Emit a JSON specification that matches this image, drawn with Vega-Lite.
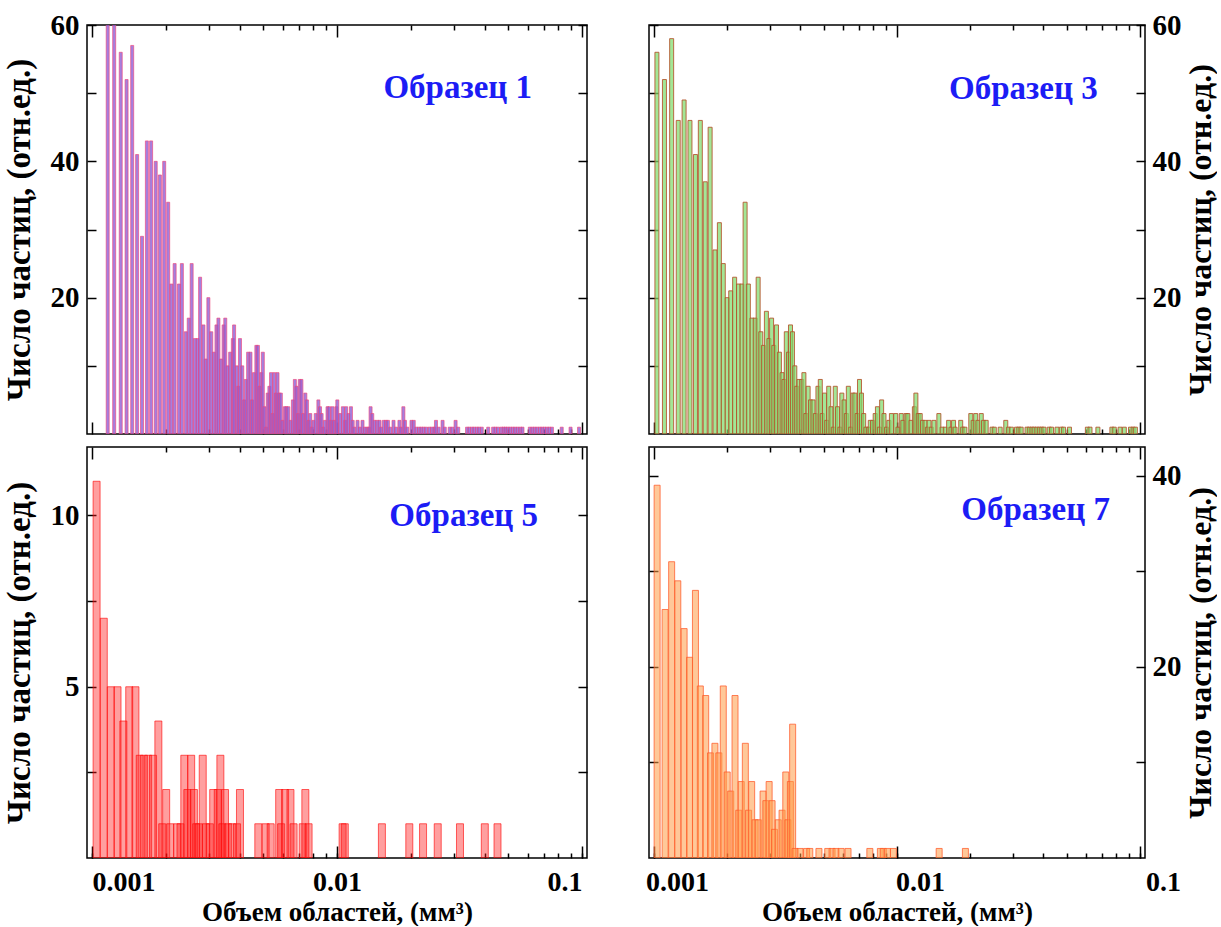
{
  "$schema": "https://vega.github.io/schema/vega-lite/v6.json",
  "padding": {"left": 2, "top": 10, "right": 0, "bottom": 0},
  "background": "white",
  "config": {
    "font": "Liberation Serif",
    "view": {"stroke": "black", "strokeWidth": 1.5},
    "axis": {
      "domain": false, "grid": false, "ticks": true, "tickColor": "black", "tickWidth": 1.5,
      "labelFont": "Liberation Serif", "labelFontWeight": "bold", "labelFontSize": 29, "labelColor": "black",
      "titleFont": "Liberation Serif", "titleFontWeight": "bold", "titleColor": "black", "titleFontSize": 33,
      "labelOverlap": false, "zindex": 1
    }
  },
  "datasets": {
    "p1": [
      {"v":0.001159,"n":65},{"v":0.001232,"n":61},{"v":0.00131,"n":56},{"v":0.001384,"n":52},{"v":0.001459,"n":57},{"v":0.001528,"n":41},{"v":0.0016,"n":29},{"v":0.001675,"n":43},{"v":0.001743,"n":43},{"v":0.00182,"n":40},{"v":0.001893,"n":38},{"v":0.001971,"n":40},{"v":0.002046,"n":34},
      {"v":0.002109,"n":22},{"v":0.002174,"n":25},{"v":0.002264,"n":22},{"v":0.002327,"n":25},{"v":0.002414,"n":15},{"v":0.002482,"n":17},{"v":0.002551,"n":25},{"v":0.00263,"n":14},{"v":0.002697,"n":14},{"v":0.002762,"n":23},{"v":0.00285,"n":16},{"v":0.002911,"n":11},{"v":0.002985,"n":20},{"v":0.003068,"n":15},{"v":0.003143,"n":12},{"v":0.003221,"n":16},{"v":0.003281,"n":17},{"v":0.003364,"n":11},{"v":0.003445,"n":16},{"v":0.003499,"n":17},{"v":0.003574,"n":10},{"v":0.003664,"n":12},{"v":0.003757,"n":14},{"v":0.003802,"n":16},{"v":0.003898,"n":10},{"v":0.003956,"n":7},{"v":0.004018,"n":14},{"v":0.004104,"n":10},{"v":0.004181,"n":5},{"v":0.004246,"n":8},{"v":0.004337,"n":12},{"v":0.004434,"n":12},{"v":0.0045,"n":5},{"v":0.004583,"n":9},{"v":0.004686,"n":13},{"v":0.004756,"n":13},{"v":0.004831,"n":7},{"v":0.004907,"n":9},{"v":0.00498,"n":12},{"v":0.005058,"n":4},{"v":0.005138,"n":1},{"v":0.005214,"n":6},{"v":0.005297,"n":7},{"v":0.005381,"n":9},{"v":0.00546,"n":3},{"v":0.005546,"n":9},{"v":0.005634,"n":6},{"v":0.005717,"n":9},{"v":0.005808,"n":6},{"v":0.005899,"n":6},{"v":0.005987,"n":2},{"v":0.006121,"n":4},{"v":0.006212,"n":4},{"v":0.006327,"n":4},{"v":0.006469,"n":2},{"v":0.006607,"n":5},{"v":0.00673,"n":8},{"v":0.006836,"n":7},{"v":0.006937,"n":3},{"v":0.007047,"n":8},{"v":0.007158,"n":8},{"v":0.007264,"n":3},{"v":0.007427,"n":6},{"v":0.007537,"n":5},{"v":0.007656,"n":2},{"v":0.007777,"n":3},{"v":0.007892,"n":1},{"v":0.008017,"n":2},{"v":0.008188,"n":3},{"v":0.008395,"n":5},{"v":0.008527,"n":4},{"v":0.008654,"n":3},{"v":0.00879,"n":1},{"v":0.008929,"n":2},{"v":0.009146,"n":4},{"v":0.00929,"n":4},{"v":0.009437,"n":2},{"v":0.009577,"n":4},{"v":0.009727,"n":2},{"v":0.009936,"n":4},{"v":0.01003,"n":5},
      {"v":0.01031,"n":3},{"v":0.01057,"n":4},{"v":0.0108,"n":2},{"v":0.0109,"n":4},{"v":0.01114,"n":3},{"v":0.0114,"n":4},{"v":0.01159,"n":2},{"v":0.01177,"n":1},{"v":0.01213,"n":2},{"v":0.0124,"n":1},{"v":0.01271,"n":2},{"v":0.01298,"n":1},{"v":0.0133,"n":1},{"v":0.01351,"n":1},{"v":0.01371,"n":4},{"v":0.01393,"n":3},{"v":0.01423,"n":2},{"v":0.01459,"n":2},{"v":0.01491,"n":2},{"v":0.01514,"n":1},{"v":0.01552,"n":2},{"v":0.01585,"n":2},{"v":0.01614,"n":2},{"v":0.01649,"n":1},{"v":0.01701,"n":2},{"v":0.01742,"n":1},{"v":0.01798,"n":2},{"v":0.0182,"n":1},{"v":0.01866,"n":4},{"v":0.01894,"n":2},{"v":0.01936,"n":1},{"v":0.02014,"n":2},{"v":0.02057,"n":2},{"v":0.02109,"n":1},{"v":0.02162,"n":1},{"v":0.02208,"n":1},{"v":0.02256,"n":1},{"v":0.02312,"n":1},{"v":0.02384,"n":1},{"v":0.02443,"n":1},{"v":0.02496,"n":1},{"v":0.02535,"n":2},{"v":0.02599,"n":1},{"v":0.02697,"n":2},{"v":0.02754,"n":1},{"v":0.02884,"n":1},{"v":0.02957,"n":1},{"v":0.03048,"n":2},{"v":0.03124,"n":1},{"v":0.03395,"n":1},{"v":0.03467,"n":1},{"v":0.03554,"n":1},{"v":0.03631,"n":1},{"v":0.03723,"n":1},{"v":0.03802,"n":1},{"v":0.03898,"n":1},{"v":0.04142,"n":1},{"v":0.04337,"n":1},{"v":0.04434,"n":1},{"v":0.04541,"n":1},{"v":0.04686,"n":1},{"v":0.04786,"n":1},{"v":0.04875,"n":1},{"v":0.0498,"n":1},{"v":0.05091,"n":1},{"v":0.05214,"n":1},{"v":0.05331,"n":1},{"v":0.0546,"n":1},{"v":0.05598,"n":1},{"v":0.05717,"n":1},{"v":0.06121,"n":1},{"v":0.0627,"n":1},{"v":0.0641,"n":1},{"v":0.06565,"n":1},{"v":0.0673,"n":1},{"v":0.06874,"n":1},{"v":0.07028,"n":1},{"v":0.07198,"n":1},{"v":0.07359,"n":1},{"v":0.07537,"n":1},{"v":0.08264,"n":1},{"v":0.0898,"n":1},{"v":0.09727,"n":1}
    ],
    "p3": [
      {"v":0.001028,"n":56},{"v":0.001104,"n":52},{"v":0.001182,"n":58},{"v":0.001258,"n":46},{"v":0.00133,"n":49},{"v":0.001406,"n":46},{"v":0.001481,"n":41},{"v":0.001551,"n":46},{"v":0.001625,"n":37},{"v":0.001702,"n":45},{"v":0.001783,"n":27},{"v":0.001858,"n":31},{"v":0.001928,"n":25},{"v":0.002001,"n":20},{"v":0.002069,"n":21},{"v":0.002147,"n":23},{"v":0.002228,"n":22},{"v":0.0023,"n":22},{"v":0.002371,"n":34},{"v":0.002445,"n":22},{"v":0.00253,"n":17},{"v":0.002609,"n":17},{"v":0.002683,"n":23},{"v":0.002751,"n":15},{"v":0.002821,"n":13},{"v":0.002901,"n":18},{"v":0.002972,"n":14},{"v":0.003047,"n":17},{"v":0.003113,"n":13},{"v":0.003192,"n":16},{"v":0.003282,"n":12},{"v":0.003365,"n":9},{"v":0.003428,"n":8},{"v":0.003503,"n":15},{"v":0.003578,"n":12},{"v":0.003645,"n":16},{"v":0.003713,"n":15},{"v":0.003797,"n":10},{"v":0.003868,"n":7},{"v":0.003952,"n":8},{"v":0.004052,"n":8},{"v":0.004139,"n":9},{"v":0.004217,"n":3},{"v":0.004308,"n":7},{"v":0.004406,"n":5},{"v":0.004513,"n":5},{"v":0.004615,"n":3},{"v":0.004728,"n":7},{"v":0.004834,"n":8},{"v":0.004924,"n":3},{"v":0.005031,"n":6},{"v":0.005139,"n":2},{"v":0.005236,"n":7},{"v":0.005353,"n":4},{"v":0.005469,"n":1},{"v":0.005572,"n":7},{"v":0.005691,"n":4},{"v":0.00582,"n":1},{"v":0.005929,"n":6},{"v":0.006058,"n":5},{"v":0.006188,"n":3},{"v":0.006305,"n":7},{"v":0.006447,"n":1},{"v":0.006585,"n":6},{"v":0.006709,"n":6},{"v":0.006854,"n":3},{"v":0.007009,"n":8},{"v":0.00714,"n":6},{"v":0.007294,"n":3},{"v":0.007452,"n":1},{"v":0.007641,"n":1},{"v":0.007762,"n":2},{"v":0.00793,"n":2},{"v":0.008131,"n":3},{"v":0.008307,"n":4},{"v":0.008462,"n":1},{"v":0.008645,"n":5},{"v":0.00884,"n":3},{"v":0.009056,"n":1},{"v":0.009259,"n":2},{"v":0.009484,"n":3},{"v":0.009881,"n":3},
      {"v":0.01009,"n":1},{"v":0.01041,"n":3},{"v":0.01057,"n":2},{"v":0.0109,"n":3},{"v":0.01108,"n":3},{"v":0.01142,"n":2},{"v":0.01179,"n":4},{"v":0.01196,"n":6},{"v":0.01223,"n":3},{"v":0.01246,"n":3},{"v":0.01273,"n":2},{"v":0.01305,"n":2},{"v":0.01334,"n":1},{"v":0.01355,"n":2},{"v":0.01384,"n":1},{"v":0.01419,"n":2},{"v":0.01487,"n":3},{"v":0.01533,"n":1},{"v":0.0158,"n":1},{"v":0.01631,"n":2},{"v":0.01667,"n":1},{"v":0.01709,"n":2},{"v":0.01734,"n":1},{"v":0.01829,"n":2},{"v":0.01863,"n":1},{"v":0.01903,"n":1},{"v":0.02012,"n":3},{"v":0.02058,"n":2},{"v":0.02108,"n":3},{"v":0.02155,"n":2},{"v":0.02222,"n":3},{"v":0.0227,"n":2},{"v":0.02328,"n":2},{"v":0.02461,"n":1},{"v":0.02514,"n":1},{"v":0.02658,"n":1},{"v":0.02803,"n":2},{"v":0.02874,"n":1},{"v":0.02955,"n":1},{"v":0.03104,"n":1},{"v":0.03171,"n":1},{"v":0.03243,"n":1},{"v":0.03429,"n":1},{"v":0.03503,"n":1},{"v":0.03592,"n":1},{"v":0.03669,"n":1},{"v":0.03762,"n":1},{"v":0.03854,"n":1},{"v":0.03941,"n":1},{"v":0.04026,"n":1},{"v":0.04229,"n":1},{"v":0.04324,"n":1},{"v":0.04555,"n":1},{"v":0.04745,"n":1},{"v":0.04848,"n":1},{"v":0.05126,"n":1},{"v":0.06073,"n":1},{"v":0.06227,"n":1},{"v":0.06709,"n":1},{"v":0.07661,"n":1},{"v":0.07834,"n":1},{"v":0.0828,"n":1},{"v":0.08619,"n":1},{"v":0.0914,"n":1},{"v":0.09372,"n":1},{"v":0.09572,"n":1}
    ],
    "p5": [
      {"v":0.001044,"n":11},{"v":0.001117,"n":7},{"v":0.001193,"n":5},{"v":0.001271,"n":5},{"v":0.001343,"n":4},{"v":0.001419,"n":5},{"v":0.001504,"n":5},{"v":0.001566,"n":3},{"v":0.001629,"n":3},{"v":0.001695,"n":3},{"v":0.001775,"n":3},{"v":0.001866,"n":4},{"v":0.001935,"n":1},{"v":0.002008,"n":2},{"v":0.002084,"n":1},{"v":0.002228,"n":1},{"v":0.002297,"n":1},{"v":0.002381,"n":3},{"v":0.00245,"n":2},{"v":0.00254,"n":3},{"v":0.002606,"n":2},{"v":0.002662,"n":1},{"v":0.002729,"n":1},{"v":0.002831,"n":3},{"v":0.002919,"n":1},{"v":0.003028,"n":1},{"v":0.003124,"n":2},{"v":0.00326,"n":2},{"v":0.003342,"n":3},{"v":0.003404,"n":1},{"v":0.00349,"n":2},{"v":0.003597,"n":1},{"v":0.003733,"n":1},{"v":0.003908,"n":1},{"v":0.004018,"n":2},{"v":0.004774,"n":1},{"v":0.005114,"n":1},{"v":0.005361,"n":1},{"v":0.005808,"n":2},{"v":0.005916,"n":1},{"v":0.006138,"n":2},{"v":0.006457,"n":2},{"v":0.00665,"n":1},{"v":0.007244,"n":1},{"v":0.007427,"n":2},{"v":0.007656,"n":1},{"v":0.01054,"n":1},{"v":0.01076,"n":1},{"v":0.01525,"n":1},{"v":0.01973,"n":1},{"v":0.02245,"n":1},{"v":0.02577,"n":1},{"v":0.03177,"n":1},{"v":0.04011,"n":1},{"v":0.0452,"n":1}
    ],
    "p7": [
      {"v":0.00103,"n":39},{"v":0.001111,"n":26},{"v":0.001182,"n":31},{"v":0.001253,"n":29},{"v":0.00133,"n":24},{"v":0.001401,"n":21},{"v":0.001481,"n":28},{"v":0.001551,"n":18},{"v":0.001632,"n":17},{"v":0.001708,"n":11},{"v":0.001781,"n":12},{"v":0.001849,"n":11},{"v":0.001928,"n":18},{"v":0.002001,"n":9},{"v":0.002069,"n":7},{"v":0.002155,"n":17},{"v":0.002233,"n":5},{"v":0.002285,"n":8},{"v":0.002376,"n":12},{"v":0.00245,"n":5},{"v":0.002523,"n":8},{"v":0.002607,"n":4},{"v":0.002688,"n":4},{"v":0.002811,"n":7},{"v":0.002887,"n":6},{"v":0.002977,"n":8},{"v":0.003061,"n":6},{"v":0.003133,"n":3},{"v":0.003246,"n":4},{"v":0.003365,"n":5},{"v":0.003486,"n":9},{"v":0.003558,"n":4},{"v":0.003641,"n":8},{"v":0.00372,"n":14},{"v":0.003807,"n":1},{"v":0.003989,"n":1},{"v":0.004244,"n":1},{"v":0.004376,"n":1},{"v":0.004772,"n":1},{"v":0.005187,"n":1},{"v":0.005404,"n":1},{"v":0.005609,"n":1},{"v":0.005891,"n":1},{"v":0.006287,"n":1},{"v":0.007732,"n":1},{"v":0.008542,"n":1},{"v":0.008781,"n":1},{"v":0.00914,"n":1},{"v":0.009663,"n":1},{"v":0.01491,"n":1},{"v":0.01912,"n":1}
    ]
  },
  "concat": [
    {
      "width": 500, "height": 409,
      "layer": [
        {
          "data": {"name": "p1"},
          "mark": {"type": "bar", "width": 3, "clip": true, "fill": "#8f5fd6", "fillOpacity": 0.8, "stroke": "#f0457a", "strokeOpacity": 0.65, "strokeWidth": 1},
          "encoding": {
            "x": {"field": "v", "type": "quantitative", "scale": {"type": "log", "domain": [0.001, 0.1], "nice": false},
              "axis": {"orient": "bottom", "values": [0.002,0.003,0.004,0.005,0.006,0.007,0.008,0.009,0.02,0.03,0.04,0.05,0.06,0.07,0.08,0.09], "labels": false, "title": null, "minExtent": 0, "maxExtent": 0, "tickSize": -5}},
            "y": {"field": "n", "type": "quantitative", "scale": {"domain": [0, 60], "nice": false},
              "axis": {"orient": "left", "values": [10,20,30,40,50,60], "labelExpr": "datum.value % 20 == 0 ? datum.label : ''", "tickSize": -9, "labelPadding": 17, "title": "Число частиц, (отн.ед.)", "titlePadding": 14}}
          }
        },
        {
          "data": {"values": [{"v": 0.0311, "n": 50.7, "t": "Образец 1"}]},
          "mark": {"type": "text", "font": "Liberation Serif", "fontWeight": "bold", "fontSize": 33, "color": "#1c1cf5", "align": "center", "baseline": "middle"},
          "encoding": {
            "x": {"field": "v", "type": "quantitative", "scale": {"type": "log", "domain": [0.001, 0.1], "nice": false},
              "axis": {"orient": "top", "values": [0.002,0.003,0.004,0.005,0.006,0.007,0.008,0.009,0.02,0.03,0.04,0.05,0.06,0.07,0.08,0.09], "labels": false, "title": null, "minExtent": 0, "maxExtent": 0, "tickSize": -5}},
            "y": {"field": "n", "type": "quantitative", "scale": {"domain": [0, 60], "nice": false},
              "axis": {"orient": "right", "values": [10,20,30,40,50,60], "labels": false, "title": null, "minExtent": 0, "maxExtent": 0, "tickSize": -9}},
            "text": {"field": "t"}
          }
        },
        {
          "data": {"values": [{"v": 0.01, "n": 1}]},
          "mark": {"type": "point", "opacity": 0},
          "encoding": {
            "x": {"field": "v", "type": "quantitative", "scale": {"type": "log", "domain": [0.001, 0.1], "nice": false},
              "axis": {"orient": "bottom", "values": [0.001, 0.01, 0.1], "labels": false, "title": null, "minExtent": 0, "maxExtent": 0, "tickSize": -12}},
            "y": {"field": "n", "type": "quantitative", "scale": {"domain": [0, 60], "nice": false}, "axis": null}
          }
        },
        {
          "data": {"values": [{"v": 0.01, "n": 1}]},
          "mark": {"type": "point", "opacity": 0},
          "encoding": {
            "x": {"field": "v", "type": "quantitative", "scale": {"type": "log", "domain": [0.001, 0.1], "nice": false},
              "axis": {"orient": "top", "values": [0.001, 0.01, 0.1], "labels": false, "title": null, "minExtent": 0, "maxExtent": 0, "tickSize": -12}},
            "y": {"field": "n", "type": "quantitative", "scale": {"domain": [0, 60], "nice": false}, "axis": null}
          }
        }
      ],
      "resolve": {"axis": {"x": "independent", "y": "independent"}}
    },
    {
      "width": 496, "height": 409,
      "layer": [
        {
          "data": {"name": "p3"},
          "mark": {"type": "bar", "width": 4, "clip": true, "fill": "#7fdc6e", "fillOpacity": 0.72, "stroke": "#b4522a", "strokeOpacity": 0.85, "strokeWidth": 1},
          "encoding": {
            "x": {"field": "v", "type": "quantitative", "scale": {"type": "log", "domain": [0.001, 0.1], "nice": false},
              "axis": {"orient": "bottom", "values": [0.002,0.003,0.004,0.005,0.006,0.007,0.008,0.009,0.02,0.03,0.04,0.05,0.06,0.07,0.08,0.09], "labels": false, "title": null, "minExtent": 0, "maxExtent": 0, "tickSize": -5}},
            "y": {"field": "n", "type": "quantitative", "scale": {"domain": [0, 60], "nice": false},
              "axis": {"orient": "right", "values": [10,20,30,40,50,60], "labelExpr": "datum.value % 20 == 0 ? datum.label : ''", "tickSize": -9, "labelPadding": 16, "title": "Число частиц, (отн.ед.)", "titleFontSize": 32, "titlePadding": 4, "titleAngle": 270, "titleBaseline": "top"}}
          }
        },
        {
          "data": {"values": [{"v": 0.0331, "n": 50.6, "t": "Образец 3"}]},
          "mark": {"type": "text", "font": "Liberation Serif", "fontWeight": "bold", "fontSize": 33, "color": "#1c1cf5", "align": "center", "baseline": "middle"},
          "encoding": {
            "x": {"field": "v", "type": "quantitative", "scale": {"type": "log", "domain": [0.001, 0.1], "nice": false},
              "axis": {"orient": "top", "values": [0.002,0.003,0.004,0.005,0.006,0.007,0.008,0.009,0.02,0.03,0.04,0.05,0.06,0.07,0.08,0.09], "labels": false, "title": null, "minExtent": 0, "maxExtent": 0, "tickSize": -5}},
            "y": {"field": "n", "type": "quantitative", "scale": {"domain": [0, 60], "nice": false},
              "axis": {"orient": "left", "values": [10,20,30,40,50,60], "labels": false, "title": null, "minExtent": 0, "maxExtent": 0, "tickSize": -9}},
            "text": {"field": "t"}
          }
        },
        {
          "data": {"values": [{"v": 0.01, "n": 1}]},
          "mark": {"type": "point", "opacity": 0},
          "encoding": {
            "x": {"field": "v", "type": "quantitative", "scale": {"type": "log", "domain": [0.001, 0.1], "nice": false},
              "axis": {"orient": "bottom", "values": [0.001, 0.01, 0.1], "labels": false, "title": null, "minExtent": 0, "maxExtent": 0, "tickSize": -12}},
            "y": {"field": "n", "type": "quantitative", "scale": {"domain": [0, 60], "nice": false}, "axis": null}
          }
        },
        {
          "data": {"values": [{"v": 0.01, "n": 1}]},
          "mark": {"type": "point", "opacity": 0},
          "encoding": {
            "x": {"field": "v", "type": "quantitative", "scale": {"type": "log", "domain": [0.001, 0.1], "nice": false},
              "axis": {"orient": "top", "values": [0.001, 0.01, 0.1], "labels": false, "title": null, "minExtent": 0, "maxExtent": 0, "tickSize": -12}},
            "y": {"field": "n", "type": "quantitative", "scale": {"domain": [0, 60], "nice": false}, "axis": null}
          }
        }
      ],
      "resolve": {"axis": {"x": "independent", "y": "independent"}}
    },
    {
      "width": 500, "height": 411,
      "layer": [
        {
          "data": {"name": "p5"},
          "mark": {"type": "bar", "width": 7, "clip": true, "fill": "#ff1a1a", "fillOpacity": 0.42, "stroke": "#ff0000", "strokeOpacity": 0.6, "strokeWidth": 1},
          "encoding": {
            "x": {"field": "v", "type": "quantitative", "scale": {"type": "log", "domain": [0.001, 0.1], "nice": false},
              "axis": {"orient": "bottom", "values": [0.001,0.002,0.003,0.004,0.005,0.006,0.007,0.008,0.009,0.01,0.02,0.03,0.04,0.05,0.06,0.07,0.08,0.09,0.1], "tickSize": -5,
                "labelExpr": "datum.value == 0.001 ? '0.001' : datum.value == 0.01 ? '0.01' : datum.value == 0.1 ? '0.1' : ''", "labelPadding": 15, "labelFontSize": 28, "labelFlush": false,
                "labelAlign": {"condition": [{"test": "datum.value == 0.001", "value": "left"}, {"test": "datum.value == 0.1", "value": "right"}], "value": "center"},
                "title": "Объем областей, (мм³)", "titleFontSize": 27, "titlePadding": 3}},
            "y": {"field": "n", "type": "quantitative", "scale": {"domain": [0, 12], "nice": false},
              "axis": {"orient": "left", "values": [2.5,5,7.5,10], "labelExpr": "datum.value % 5 == 0 ? datum.label : ''", "tickSize": -9, "labelPadding": 17, "title": "Число частиц, (отн.ед.)", "titlePadding": 14}}
          }
        },
        {
          "data": {"values": [{"v": 0.0329, "n": 10.0, "t": "Образец 5"}]},
          "mark": {"type": "text", "font": "Liberation Serif", "fontWeight": "bold", "fontSize": 33, "color": "#1c1cf5", "align": "center", "baseline": "middle"},
          "encoding": {
            "x": {"field": "v", "type": "quantitative", "scale": {"type": "log", "domain": [0.001, 0.1], "nice": false},
              "axis": {"orient": "top", "values": [0.002,0.003,0.004,0.005,0.006,0.007,0.008,0.009,0.02,0.03,0.04,0.05,0.06,0.07,0.08,0.09], "labels": false, "title": null, "minExtent": 0, "maxExtent": 0, "tickSize": -5}},
            "y": {"field": "n", "type": "quantitative", "scale": {"domain": [0, 12], "nice": false},
              "axis": {"orient": "right", "values": [2.5,5,7.5,10], "labels": false, "title": null, "minExtent": 0, "maxExtent": 0, "tickSize": -9}},
            "text": {"field": "t"}
          }
        },
        {
          "data": {"values": [{"v": 0.01, "n": 1}]},
          "mark": {"type": "point", "opacity": 0},
          "encoding": {
            "x": {"field": "v", "type": "quantitative", "scale": {"type": "log", "domain": [0.001, 0.1], "nice": false},
              "axis": {"orient": "bottom", "values": [0.001, 0.01, 0.1], "labels": false, "title": null, "minExtent": 0, "maxExtent": 0, "tickSize": -12}},
            "y": {"field": "n", "type": "quantitative", "scale": {"domain": [0, 12], "nice": false}, "axis": null}
          }
        },
        {
          "data": {"values": [{"v": 0.01, "n": 1}]},
          "mark": {"type": "point", "opacity": 0},
          "encoding": {
            "x": {"field": "v", "type": "quantitative", "scale": {"type": "log", "domain": [0.001, 0.1], "nice": false},
              "axis": {"orient": "top", "values": [0.001, 0.01, 0.1], "labels": false, "title": null, "minExtent": 0, "maxExtent": 0, "tickSize": -12}},
            "y": {"field": "n", "type": "quantitative", "scale": {"domain": [0, 12], "nice": false}, "axis": null}
          }
        }
      ],
      "resolve": {"axis": {"x": "independent", "y": "independent"}}
    },
    {
      "width": 496, "height": 411,
      "layer": [
        {
          "data": {"name": "p7"},
          "mark": {"type": "bar", "width": 6, "clip": true, "fill": "#ff9a45", "fillOpacity": 0.55, "stroke": "#ff5a2a", "strokeOpacity": 0.75, "strokeWidth": 1},
          "encoding": {
            "x": {"field": "v", "type": "quantitative", "scale": {"type": "log", "domain": [0.001, 0.1], "nice": false},
              "axis": {"orient": "bottom", "values": [0.001,0.002,0.003,0.004,0.005,0.006,0.007,0.008,0.009,0.01,0.02,0.03,0.04,0.05,0.06,0.07,0.08,0.09,0.1], "tickSize": -5,
                "labelExpr": "datum.value == 0.001 ? '0.001' : datum.value == 0.01 ? '0.01' : datum.value == 0.1 ? '0.1' : ''", "labelPadding": 15, "labelFontSize": 28, "labelFlush": false, "labelOffset": 23,
                "title": "Объем областей, (мм³)", "titleFontSize": 27, "titlePadding": 3}},
            "y": {"field": "n", "type": "quantitative", "scale": {"domain": [0, 43], "nice": false},
              "axis": {"orient": "right", "values": [10,20,30,40], "labelExpr": "datum.value % 20 == 0 ? datum.label : ''", "tickSize": -9, "labelPadding": 16, "title": "Число частиц, (отн.ед.)", "titleFontSize": 32, "titlePadding": 4, "titleAngle": 270, "titleBaseline": "top"}}
          }
        },
        {
          "data": {"values": [{"v": 0.0372, "n": 36.4, "t": "Образец 7"}]},
          "mark": {"type": "text", "font": "Liberation Serif", "fontWeight": "bold", "fontSize": 33, "color": "#1c1cf5", "align": "center", "baseline": "middle"},
          "encoding": {
            "x": {"field": "v", "type": "quantitative", "scale": {"type": "log", "domain": [0.001, 0.1], "nice": false},
              "axis": {"orient": "top", "values": [0.002,0.003,0.004,0.005,0.006,0.007,0.008,0.009,0.02,0.03,0.04,0.05,0.06,0.07,0.08,0.09], "labels": false, "title": null, "minExtent": 0, "maxExtent": 0, "tickSize": -5}},
            "y": {"field": "n", "type": "quantitative", "scale": {"domain": [0, 43], "nice": false},
              "axis": {"orient": "left", "values": [10,20,30,40], "labels": false, "title": null, "minExtent": 0, "maxExtent": 0, "tickSize": -9}},
            "text": {"field": "t"}
          }
        },
        {
          "data": {"values": [{"v": 0.01, "n": 1}]},
          "mark": {"type": "point", "opacity": 0},
          "encoding": {
            "x": {"field": "v", "type": "quantitative", "scale": {"type": "log", "domain": [0.001, 0.1], "nice": false},
              "axis": {"orient": "bottom", "values": [0.001, 0.01, 0.1], "labels": false, "title": null, "minExtent": 0, "maxExtent": 0, "tickSize": -12}},
            "y": {"field": "n", "type": "quantitative", "scale": {"domain": [0, 43], "nice": false}, "axis": null}
          }
        },
        {
          "data": {"values": [{"v": 0.01, "n": 1}]},
          "mark": {"type": "point", "opacity": 0},
          "encoding": {
            "x": {"field": "v", "type": "quantitative", "scale": {"type": "log", "domain": [0.001, 0.1], "nice": false},
              "axis": {"orient": "top", "values": [0.001, 0.01, 0.1], "labels": false, "title": null, "minExtent": 0, "maxExtent": 0, "tickSize": -12}},
            "y": {"field": "n", "type": "quantitative", "scale": {"domain": [0, 43], "nice": false}, "axis": null}
          }
        }
      ],
      "resolve": {"axis": {"x": "independent", "y": "independent"}}
    }
  ],
  "columns": 2,
  "spacing": {"row": 9, "column": 55}
}
